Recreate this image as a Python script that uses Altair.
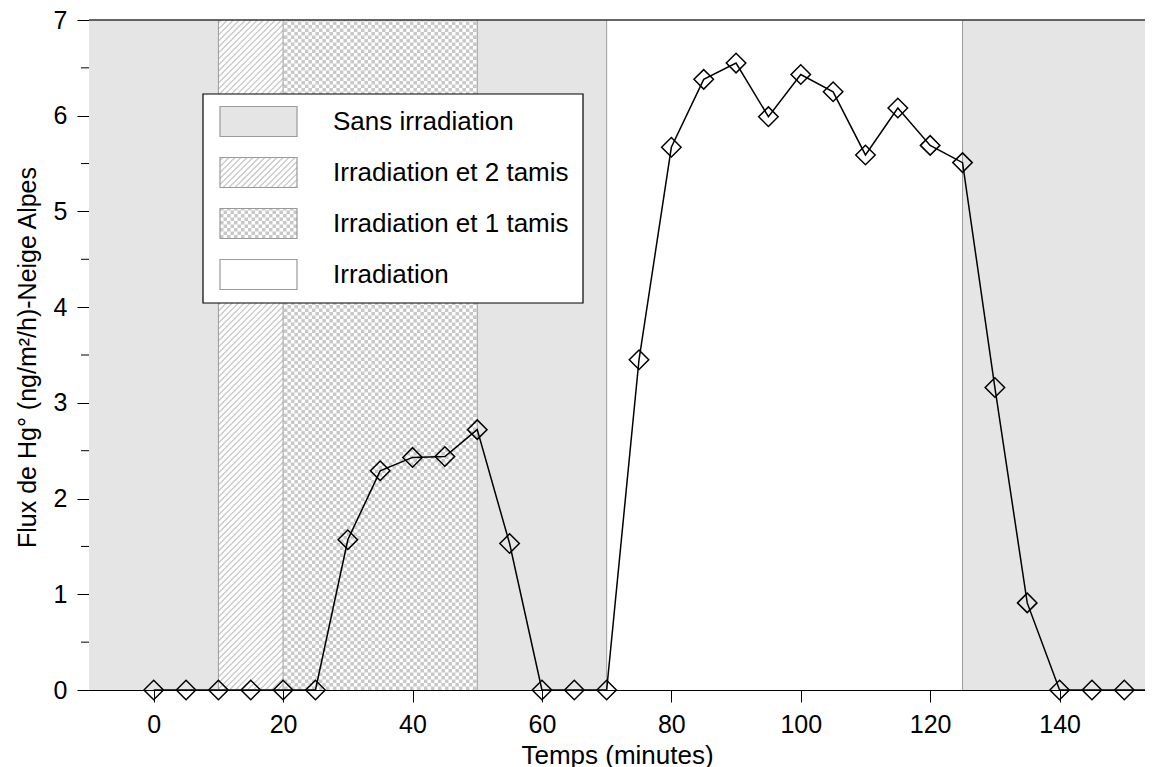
import altair as alt
import pandas as pd
import numpy as np

# ---------------- data ----------------
temps = [0, 5, 10, 15, 20, 25, 30, 35, 40, 45, 50, 55, 60, 65, 70, 75, 80, 85,
         90, 95, 100, 105, 110, 115, 120, 125, 130, 135, 140, 145, 150, 155]
flux = [0, 0, 0, 0, 0, 0, 1.57, 2.29, 2.43, 2.44, 2.72, 1.53, 0, 0, 0, 3.45,
        5.67, 6.38, 6.55, 5.99, 6.43, 6.25, 5.59, 6.08, 5.69, 5.51, 3.16, 0.91,
        0, 0, 0, 0]

phase_labels = ["Sans irradiation", "Irradiation et 2 tamis",
                "Irradiation et 1 tamis", "Irradiation"]
phase_start = [-10, 10, 20, 50, 70, 125]
phase_end = [10, 20, 50, 70, 125, 160]
phase_kind = [0, 1, 2, 0, 3, 0]
boundaries = [10, 20, 50, 70, 125]

x_ticks = [0, 20, 40, 60, 80, 100, 120, 140]
y_ticks = [0, 1, 2, 3, 4, 5, 6, 7]
y_minor = [0.5, 1.5, 2.5, 3.5, 4.5, 5.5, 6.5]

# ---------------- layout ----------------
W, H = 1056, 670
X_DOM = [-10, 153.2]
Y_DOM = [0, 7]
FONT = "Liberation Sans"
GRAY = "#e5e5e5"
HATCH = "#c8c8c8"
EDGE = "#9a9a9a"


def px2x(px):
    return X_DOM[0] + px / W * (X_DOM[1] - X_DOM[0])


def py2y(py):
    return Y_DOM[1] - py / H * (Y_DOM[1] - Y_DOM[0])


def x2px(x):
    return (x - X_DOM[0]) / (X_DOM[1] - X_DOM[0]) * W


def diag_segments(a, b, c, d, step=6.0):
    """'/' hatch inside pixel rect [a,b]x[c,d] (y downward)."""
    segs = []
    k = a + c + step / 2
    while k < b + d:
        xs_ = max(a, k - d)
        xe_ = min(b, k - c)
        if xe_ > xs_:
            segs.append(dict(x1=px2x(xs_), y1=py2y(k - xs_), x2=px2x(xe_), y2=py2y(k - xe_)))
        k += step
    return segs


def checker_cols(a, b, c, d, cell=3.5):
    n = int((b - a) // cell)
    off = (b - a - n * cell) / 2
    even, odd = [], []
    for i in range(n):
        xc = a + off + (i + 0.5) * cell
        row = dict(x=px2x(xc), y1=py2y(d), y2=py2y(c))
        (even if i % 2 == 0 else odd).append(row)
    return even, odd


# legend layout (pixels inside the plot)
LG_X0, LG_X1, LG_Y0, LG_Y1 = 114, 494, 74, 283
SW_X0, SW_X1, SW_H = 131, 208, 30
ROW0, ROW_DY = 101.5, 51
TXT_X = 244

# ---------------- build tables ----------------
bands = pd.DataFrame(dict(x1=phase_start, x2=phase_end, kind=phase_kind,
                          y1=[Y_DOM[0]] * len(phase_start), y2=[Y_DOM[1]] * len(phase_start)))

band_hatch, band_even, band_odd = [], [], []
for s, e, k in zip(phase_start, phase_end, phase_kind):
    a, b = x2px(s), min(x2px(e), W)
    if k == 1:
        band_hatch += diag_segments(a, b, 0, H)
    elif k == 2:
        ev, od = checker_cols(a, b, 0, H)
        band_even += ev
        band_odd += od

sw_rows, txt_rows = [], []
sw_hatch, sw_even, sw_odd = [], [], []
for i, lab in enumerate(phase_labels):
    yc = ROW0 + i * ROW_DY
    c, d = yc - SW_H / 2, yc + SW_H / 2
    sw_rows.append(dict(x1=px2x(SW_X0), x2=px2x(SW_X1), y1=py2y(d), y2=py2y(c),
                        fill=GRAY if i == 0 else "#ffffff"))
    txt_rows.append(dict(x=px2x(TXT_X), y=py2y(yc), label=lab))
    if i == 1:
        sw_hatch += diag_segments(SW_X0, SW_X1, c, d)
    if i == 2:
        ev, od = checker_cols(SW_X0, SW_X1, c, d)
        sw_even += ev
        sw_odd += od

xs = alt.Scale(domain=X_DOM, nice=False, zero=False)
ys = alt.Scale(domain=Y_DOM, nice=False, zero=False)

x_axis = alt.Axis(values=x_ticks, tickSize=12, tickColor="#000", domainColor="#000",
                  labelFontSize=25, labelPadding=10, labelColor="#000",
                  title="Temps (minutes)", titleFontSize=26, titleFontWeight="normal",
                  titleColor="#000", titleBaseline="alphabetic", titleY=73, grid=False)
y_axis = alt.Axis(values=y_ticks, tickSize=12, tickColor="#000", domainColor="#000",
                  labelFontSize=25, labelPadding=10, labelColor="#000",
                  title="Flux de Hg° (ng/m²/h)-Neige Alpes", titleFontSize=25,
                  titleFontWeight="normal", titleColor="#000", titleAngle=-90,
                  titleBaseline="alphabetic", titleAlign="center", titleX=-54, titleY=337,
                  grid=False)


def X(f):
    return alt.X(f, scale=xs, axis=x_axis)


def Y(f):
    return alt.Y(f, scale=ys, axis=y_axis)


band_fill = alt.Chart(bands).mark_rect(clip=True, strokeWidth=0).encode(
    x=X("x1:Q"), x2="x2:Q", y=Y("y1:Q"), y2="y2:Q",
    color=alt.Color("kind:N", scale=alt.Scale(domain=[0, 1, 2, 3],
                    range=[GRAY, "#ffffff", "#ffffff", "#ffffff"]), legend=None),
)


def seg_layer(rows, **kw):
    return alt.Chart(pd.DataFrame(rows)).mark_rule(**kw).encode(
        x=X("x1:Q"), x2="x2:Q", y=Y("y1:Q"), y2="y2:Q")


def chk_layer(rows, offset):
    return alt.Chart(pd.DataFrame(rows)).mark_rule(
        color=HATCH, strokeWidth=3.5, strokeDash=[3.5, 3.5], strokeDashOffset=offset,
        strokeCap="butt").encode(x=X("x:Q"), y=Y("y1:Q"), y2="y2:Q")


hatch_b = seg_layer(band_hatch, color=HATCH, strokeWidth=1.3)
chk_b1 = chk_layer(band_even, 0)
chk_b2 = chk_layer(band_odd, 3.5)

edges = alt.Chart(pd.DataFrame(dict(x=boundaries))).mark_rule(
    color=EDGE, strokeWidth=1).encode(x=X("x:Q"), y=alt.value(0), y2=alt.value(H))

legend_box = alt.Chart(pd.DataFrame([dict(x1=px2x(LG_X0), x2=px2x(LG_X1),
                                          y1=py2y(LG_Y1), y2=py2y(LG_Y0))])).mark_rect(
    fill="#ffffff", stroke="#000", strokeWidth=1.2).encode(
    x=X("x1:Q"), x2="x2:Q", y=Y("y1:Q"), y2="y2:Q")

sw_df = pd.DataFrame(sw_rows)
sw_fill = alt.Chart(sw_df).mark_rect(strokeWidth=0).encode(
    x=X("x1:Q"), x2="x2:Q", y=Y("y1:Q"), y2="y2:Q",
    fill=alt.Fill("fill:N", scale=None))
hatch_s = seg_layer(sw_hatch, color=HATCH, strokeWidth=1.3)
chk_s1 = chk_layer(sw_even, 0)
chk_s2 = chk_layer(sw_odd, 3.5)
sw_edge = alt.Chart(sw_df).mark_rect(fillOpacity=0, stroke=EDGE, strokeWidth=1.2).encode(
    x=X("x1:Q"), x2="x2:Q", y=Y("y1:Q"), y2="y2:Q")

legend_txt = alt.Chart(pd.DataFrame(txt_rows)).mark_text(
    align="left", baseline="middle", fontSize=26, font=FONT, color="#000").encode(
    x=X("x:Q"), y=Y("y:Q"), text="label:N")

df = pd.DataFrame(dict(temps=temps, flux=flux))
line = alt.Chart(df).mark_line(color="#000", strokeWidth=1.5).encode(
    x=X("temps:Q"), y=Y("flux:Q"))
pts = alt.Chart(df).mark_point(shape="diamond", filled=False, size=380, color="#000",
                               strokeWidth=1.5, opacity=1).encode(
    x=X("temps:Q"), y=Y("flux:Q"))

minor = alt.Chart(pd.DataFrame(dict(v=y_minor))).mark_rule(color="#000", strokeWidth=1).encode(
    y=Y("v:Q"), x=alt.value(-8), x2=alt.value(0))

top = alt.Chart(pd.DataFrame(dict(v=[Y_DOM[1]]))).mark_rule(color="#333", strokeWidth=1.5).encode(
    y=Y("v:Q"), x=alt.value(0), x2=alt.value(W))

chart = alt.layer(band_fill, hatch_b, chk_b1, chk_b2, edges, legend_box, sw_fill,
                  hatch_s, chk_s1, chk_s2, sw_edge, legend_txt, line, pts, minor,
                  top).properties(
    width=W, height=H,
    autosize=alt.AutoSizeParams(type="none"),
    padding={"left": 81, "top": 12, "right": 0, "bottom": 77},
).configure_view(stroke=None).configure(font=FONT)

chart.save("out.html", embed_options={"renderer": "svg", "actions": False})
